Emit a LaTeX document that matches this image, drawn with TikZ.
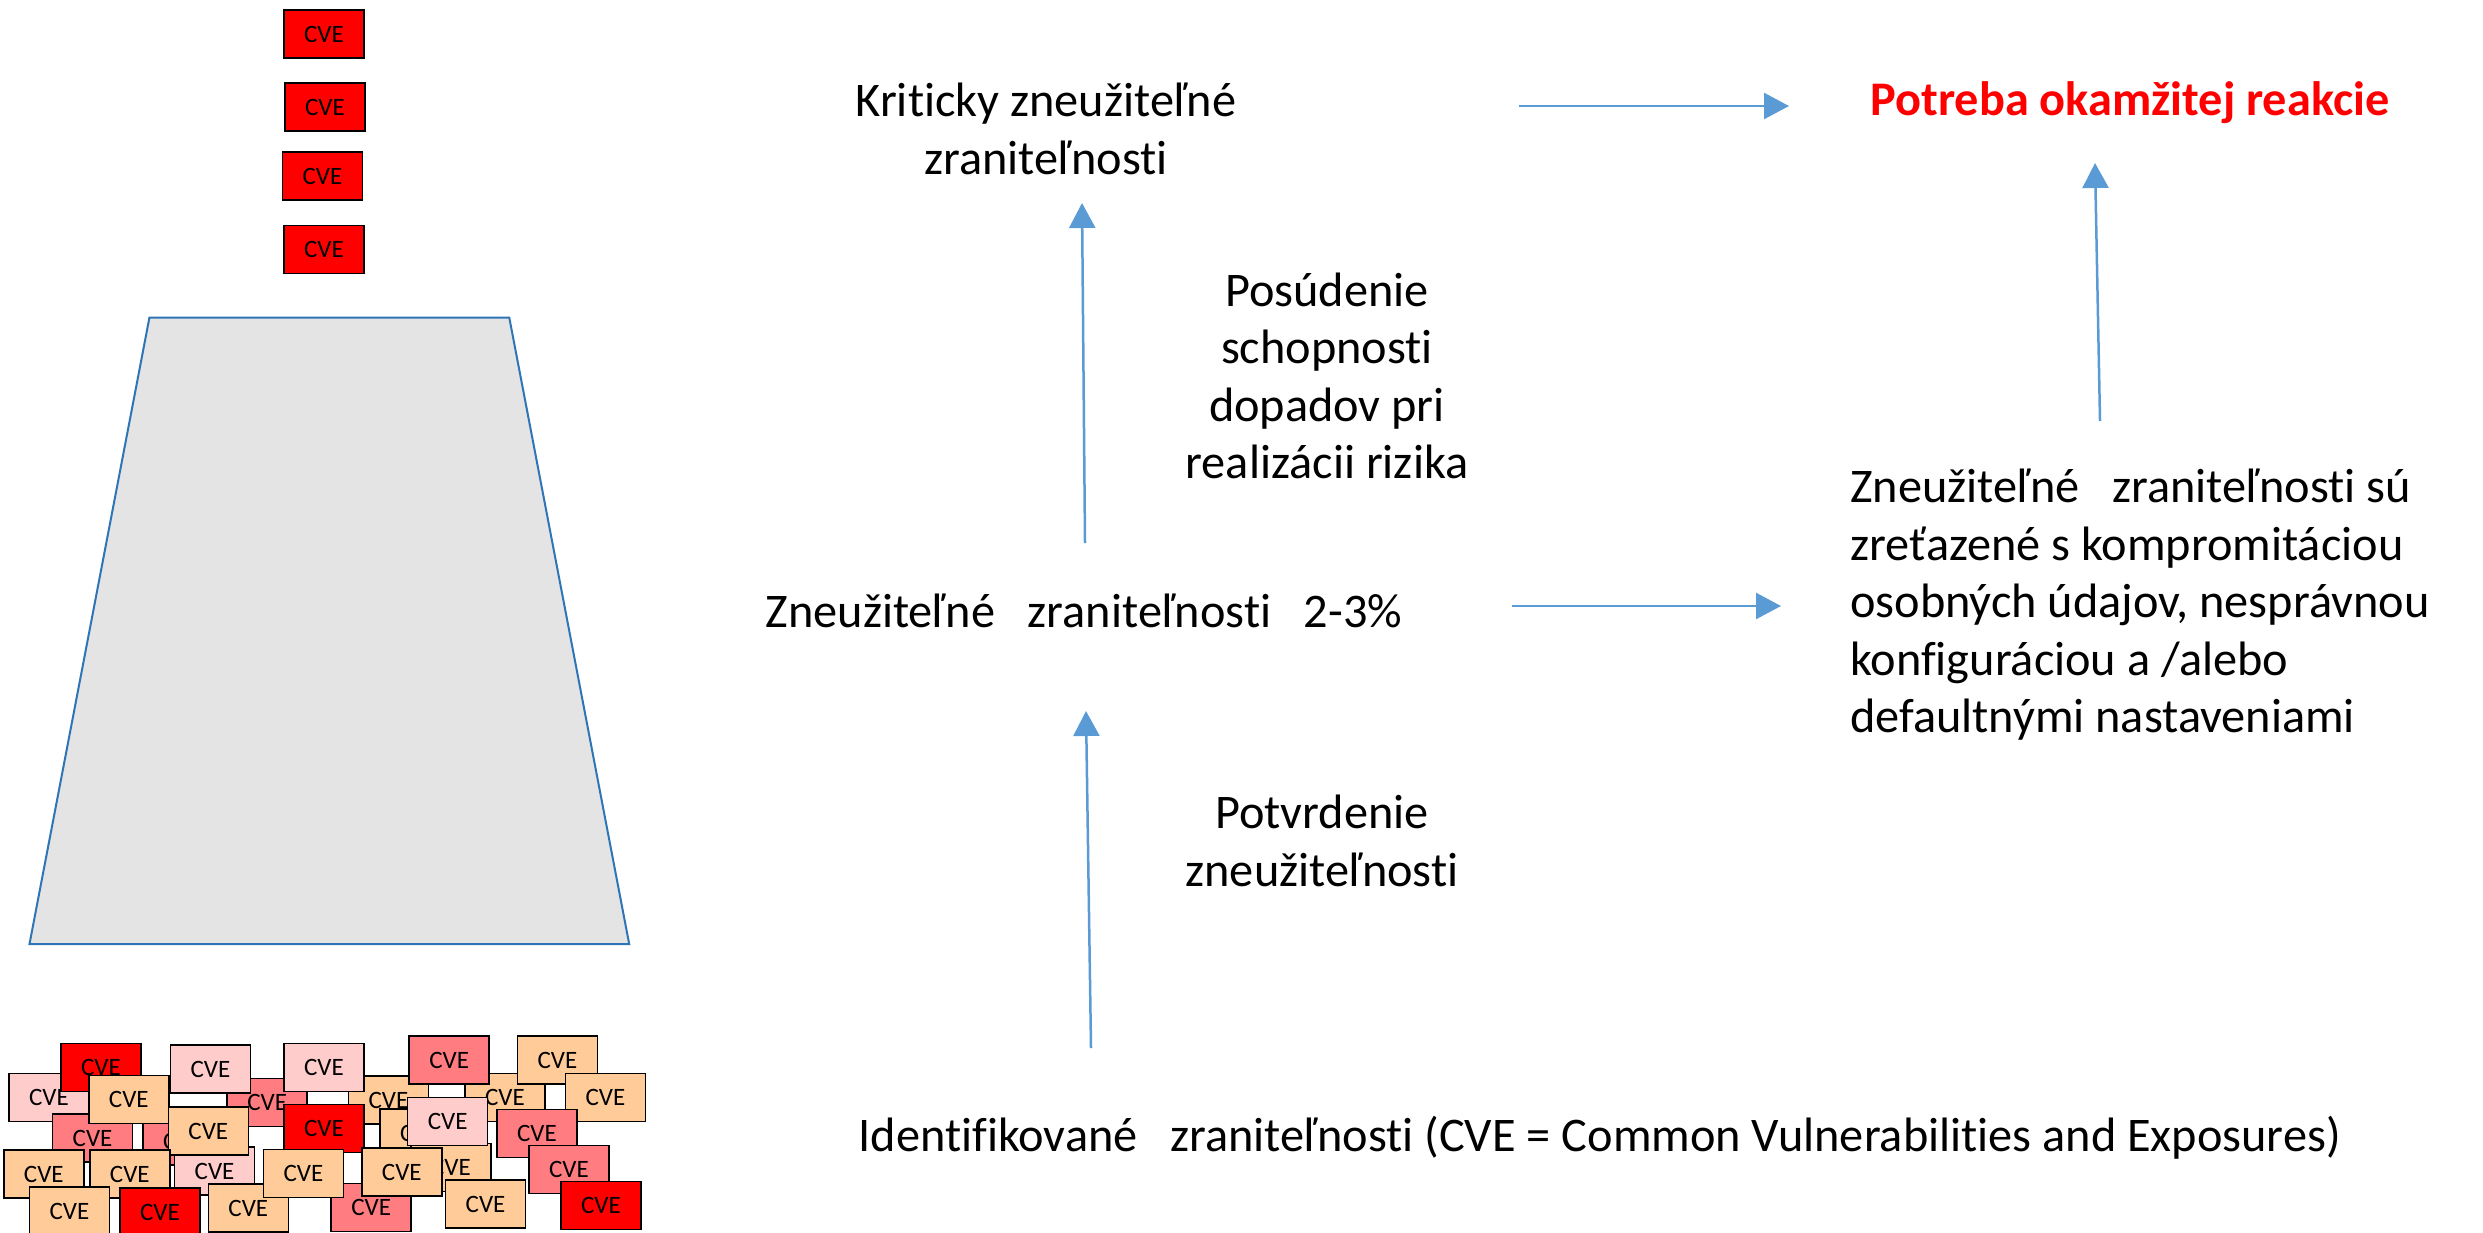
\documentclass[tikz,border=0pt]{standalone}
\usepackage{fontspec}
\setmainfont{Carlito}[Ligatures=NoCommon]
\usetikzlibrary{arrows.meta}
\definecolor{cvered}{HTML}{FF0000}
\definecolor{cvepink}{HTML}{FFCCCC}
\definecolor{cvesalmon}{HTML}{FF7C80}
\definecolor{cvepeach}{HTML}{FFCC99}
\definecolor{arrowblue}{HTML}{5B9BD5}
\definecolor{funnelblue}{HTML}{2E75B6}
\definecolor{funnelgray}{HTML}{E4E4E4}
\begin{document}
\begin{tikzpicture}[x=1pt,y=-1pt,
  cve/.style={draw=black, line width=1.5pt, minimum width=80pt, minimum height=48pt, inner sep=0pt, font=\fontsize{25}{30}\selectfont},
  cr/.style={cve, fill=cvered},
  cp/.style={cve, fill=cvepink},
  cs/.style={cve, fill=cvesalmon},
  cc/.style={cve, fill=cvepeach},
  txt/.style={inner sep=0pt, font=\fontsize{48.3}{57.5}\selectfont},
  flow/.style={draw=arrowblue, line width=2.5pt, -{Triangle[length=25pt,width=26pt]}}]
\useasboundingbox (0,0) rectangle (2483,1232);
\clip (0,0) rectangle (2483,1232);

% funnel
\draw[funnelblue, fill=funnelgray, line width=2pt] (149.4,317.7) -- (509.3,317.7) -- (629.2,944) -- (29.5,944) -- cycle;

% critical CVEs on top
\node[cr] (ta) at (324,34) {CVE};
\node[cr] (tb) at (325,107) {CVE};
\node[cr] (tc) at (322.5,176) {CVE};
\node[cr] (td) at (324,249.5) {CVE};

% pile of CVEs
\node[cp] (p1) at (49,1097.5) {CVE};
\node[cs] (p5) at (267.2,1102.5) {CVE};
\node[cs] (p10) at (183,1141) {CVE};
\node[cc] (p19) at (388.4,1100) {CVE};
\node[cc] (p20) at (420,1133) {CVE};
\node[cc] (p21) at (451,1167.5) {CVE};
\node[cc] (p24) at (505,1097.5) {CVE};
\node[cr] (p2) at (101,1067.5) {CVE};
\node[cp] (p3) at (210.4,1069) {CVE};
\node[cp] (p6) at (324,1067.5) {CVE};
\node[cs] (p9) at (92.6,1138) {CVE};
\node[cc] (p4) at (128.8,1099.5) {CVE};
\node[cp] (p13) at (214.6,1171) {CVE};
\node[cc] (p8) at (208.3,1131) {CVE};
\node[cr] (p7) at (324,1128.3) {CVE};
\node[cp] (p22) at (447.7,1121.7) {CVE};
\node[cs] (p23) at (449.2,1060) {CVE};
\node[cc] (p25) at (557.5,1060) {CVE};
\node[cc] (p26) at (605.5,1097.5) {CVE};
\node[cs] (p27) at (537,1133.3) {CVE};
\node[cs] (p28) at (569,1169.5) {CVE};
\node[cc] (p11) at (43.8,1174) {CVE};
\node[cc] (p12) at (129.8,1174) {CVE};
\node[cc] (p14) at (69.5,1211) {CVE};
\node[cr] (p15) at (160,1212) {CVE};
\node[cc] (p16) at (248.3,1208) {CVE};
\node[cs] (p18) at (371.2,1207.5) {CVE};
\node[cc] (p17) at (303.4,1173.3) {CVE};
\node[cc] (p30) at (401.8,1172) {CVE};
\node[cc] (p31) at (485.6,1204) {CVE};
\node[cr] (p29) at (601,1205.5) {CVE};

% texts
\node[txt, align=center] (krit) at (1046,129) {Kriticky zneužiteľné\\zraniteľnosti};
\node[txt, align=center] (posud) at (1327,376) {Posúdenie\\schopnosti\\dopadov pri\\realizácii rizika};
\node[txt] (zneu) at (1084,611) {Zneužiteľné~~~zraniteľnosti~~~2-3\%};
\node[txt, align=left, anchor=west] (chain) at (1850,605) {Zneužiteľné~~~zraniteľnosti sú\\zreťazené s kompromitáciou\\osobných údajov, nesprávnou\\konfiguráciou a /alebo\\defaultnými nastaveniami};
\node[txt, align=center] (potv) at (1322,841) {Potvrdenie\\zneužiteľnosti};
\node[txt] (ident) at (1600,1138) {Identifikované~~~zraniteľnosti (CVE = Common Vulnerabilities and Exposures)};
\node[txt, font=\fontsize{48.3}{57.5}\selectfont\bfseries, text=cvered] (potreba) at (2130,103) {Potreba okamžitej reakcie};

% arrows
\coordinate (a1s) at (1519,106); \coordinate (a1e) at (1789,106);
\coordinate (a2s) at (2100,421); \coordinate (a2e) at (2095,163);
\coordinate (a3s) at (1085,543); \coordinate (a3e) at (1082,203);
\coordinate (a4s) at (1512,606); \coordinate (a4e) at (1781,606);
\coordinate (a5s) at (1091,1048); \coordinate (a5e) at (1086,711);
\draw[flow] (a1s) -- (a1e);
\draw[flow] (a2s) -- (a2e);
\draw[flow] (a3s) -- (a3e);
\draw[flow] (a4s) -- (a4e);
\draw[flow] (a5s) -- (a5e);
\end{tikzpicture}
\end{document}
